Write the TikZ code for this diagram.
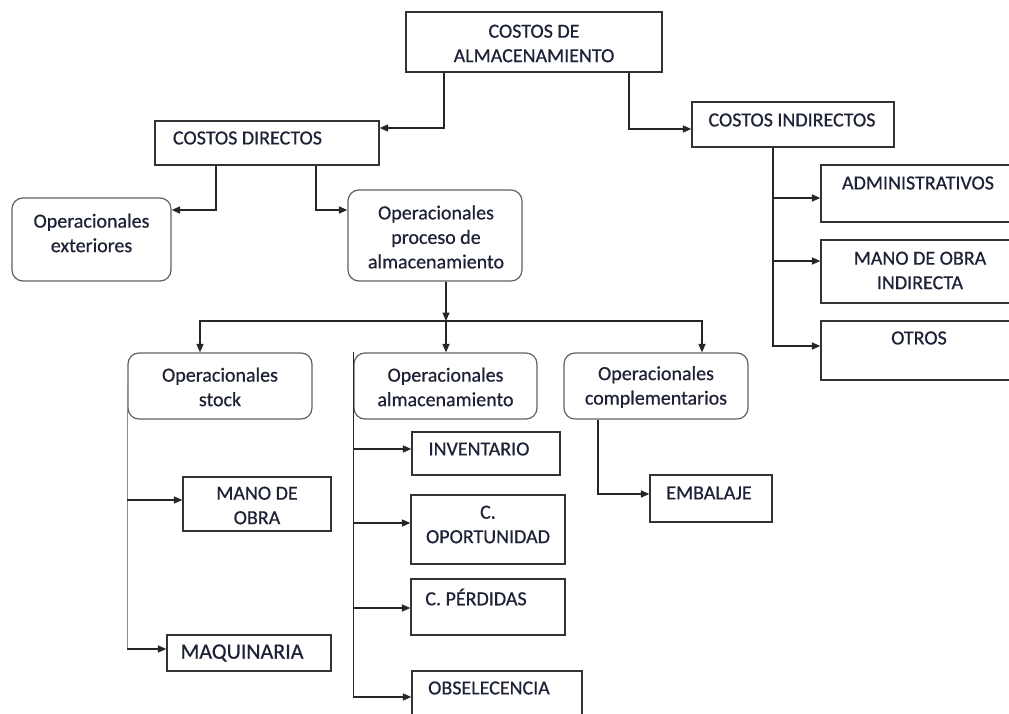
\documentclass[tikz,border=0pt]{standalone}
\usepackage{fontspec}
\setmainfont{Carlito}[FakeBold=0.6]
\usetikzlibrary{arrows.meta}
\definecolor{txt}{HTML}{1E2236}
\begin{document}
\begin{tikzpicture}[x=1pt,y=-1pt,
  box/.style={draw=black!80, line width=1.2pt, rectangle, inner sep=0pt},
  rbox/.style={draw=black!62, line width=1.2pt, rectangle, rounded corners=11pt, inner sep=0pt},
  lbl/.style={text=txt, font=\fontsize{20}{24.5}\selectfont, align=center, inner sep=0pt},
  link/.style={draw=black!85, line width=1.4pt},
  arr/.style={link, -{Triangle[length=8.5pt,width=7pt]}},
  paleline/.style={draw=black!45, line width=1.5pt},
]
\useasboundingbox (0,0) rectangle (1009,714);
\clip (0,0) rectangle (1009,714);
\fill[white] (0,0) rectangle (1009,714);

% ---- boxes ----
\node[box, minimum width=256pt, minimum height=60pt] (top) at (534,42) {};
\node[lbl] (top-t) at (534,43.5) {COSTOS DE\\ALMACENAMIENTO};

\node[box, minimum width=224pt, minimum height=44pt] (cd) at (267,143) {};
\node[lbl] (cd-t) at (247.5,138) {COSTOS DIRECTOS};

\node[box, minimum width=202pt, minimum height=45pt] (ci) at (793,124.5) {};
\node[lbl] (ci-t) at (792,120) {COSTOS INDIRECTOS};

\node[box, minimum width=196pt, minimum height=57pt] (adm) at (919,193.5) {};
\node[lbl] (adm-t) at (918,183) {ADMINISTRATIVOS};

\node[box, minimum width=196pt, minimum height=63pt] (mdoi) at (919,271.5) {};
\node[lbl] (mdoi-t) at (920,270.5) {MANO DE OBRA\\INDIRECTA};

\node[box, minimum width=196pt, minimum height=59pt] (otros) at (919,350.5) {};
\node[lbl] (otros-t) at (919,338) {OTROS};

\node[rbox, minimum width=159pt, minimum height=83pt] (ext) at (91.5,239.5) {};
\node[lbl] (ext-t) at (91.5,233) {Operacionales\\exteriores};

\node[rbox, minimum width=174pt, minimum height=91pt] (proc) at (435,235.5) {};
\node[lbl] (proc-t) at (436,237) {Operacionales\\proceso de\\almacenamiento};

\node[rbox, minimum width=184pt, minimum height=66pt] (stock) at (220,386) {};
\node[lbl] (stock-t) at (220,387) {Operacionales\\stock};

\node[rbox, minimum width=183pt, minimum height=66pt] (alm) at (445.5,386) {};
\node[lbl] (alm-t) at (445.5,387) {Operacionales\\almacenamiento};

\node[rbox, minimum width=184pt, minimum height=66pt] (comp) at (656,386) {};
\node[lbl] (comp-t) at (656,387) {Operacionales\\complementarios};

\node[box, minimum width=148pt, minimum height=43pt] (inv) at (486,453.5) {};
\node[lbl] (inv-t) at (479,449) {INVENTARIO};

\node[box, minimum width=148pt, minimum height=54pt] (mdo) at (257,504) {};
\node[lbl] (mdo-t) at (257,505.5) {MANO DE\\OBRA};

\node[box, minimum width=154pt, minimum height=69pt] (opo) at (488,529.5) {};
\node[lbl] (opo-t) at (488,524.5) {C.\\OPORTUNIDAD};

\node[box, minimum width=154pt, minimum height=56pt] (per) at (488,607) {};
\node[lbl] (per-t) at (476,597) {C. PÉRDIDAS};

\node[box, minimum width=164pt, minimum height=36pt] (maq) at (249,653) {};
\node[lbl, font=\fontsize{22}{26}\selectfont] (maq-t) at (242,653) {MAQUINARIA};

\node[box, minimum width=170pt, minimum height=54pt] (obs) at (497,698) {};
\node[lbl] (obs-t) at (489,688) {OBSELECENCIA};

\node[box, minimum width=122pt, minimum height=47pt] (emb) at (711,498.5) {};
\node[lbl] (emb-t) at (709,493) {EMBALAJE};

% ---- connectors ----
\draw[arr] ([xshift=-90pt]top.south) |- ([yshift=15pt]cd.east);
\draw[arr] ([xshift=95pt]top.south) |- ([yshift=-4.5pt]ci.west);

\draw[arr] ([xshift=-51pt]cd.south) |- ([yshift=29.5pt]ext.east);
\draw[arr] ([xshift=49pt]cd.south) |- ([yshift=25.5pt]proc.west);

% branching below the storage-process box
\coordinate (bus) at ([xshift=11pt]proc.south |- 0,321);
\draw[arr] ([xshift=11pt]proc.south) -- (bus);
\draw[arr] (bus) -| ([xshift=-20pt]stock.north);
\draw[arr] (bus) -| ([xshift=46pt]comp.north);
\draw[arr] (bus) -- (bus |- alm.north);

% indirect costs
\coordinate (cis) at ([xshift=-20pt]ci.south);
\coordinate (adm-in) at ([yshift=-4.5pt]adm.west);
\coordinate (mdoi-in) at ([yshift=10.5pt]mdoi.west);
\coordinate (otros-in) at ([yshift=4.5pt]otros.west);
\draw[arr] (cis) |- (otros-in);
\draw[arr] (cis |- adm-in) -- (adm-in);
\draw[arr] (cis |- mdoi-in) -- (mdoi-in);

% stock operations
\coordinate (mdo-in) at ([yshift=4pt]mdo.west);
\coordinate (maq-in) at ([yshift=4pt]maq.west);
\draw[paleline] (stock.west) -- (stock.west |- maq-in);
\draw[arr] (stock.west |- mdo-in) -- (mdo-in);
\draw[arr] (stock.west |- maq-in) -- (maq-in);

% storage operations
\coordinate (inv-in) at ([yshift=4.5pt]inv.west);
\coordinate (opo-in) at ([yshift=6.5pt]opo.west);
\coordinate (per-in) at ([yshift=-1pt]per.west);
\coordinate (obs-in) at ([yshift=1pt]obs.west);
\draw[arr] (alm.north west) |- (obs-in);
\draw[arr] (alm.north west |- inv-in) -- (inv-in);
\draw[arr] (alm.north west |- opo-in) -- (opo-in);
\draw[arr] (alm.north west |- per-in) -- (per-in);

% complementary operations
\draw[arr] ([xshift=-58pt]comp.south) |- ([yshift=4.5pt]emb.west);
\end{tikzpicture}
\end{document}
